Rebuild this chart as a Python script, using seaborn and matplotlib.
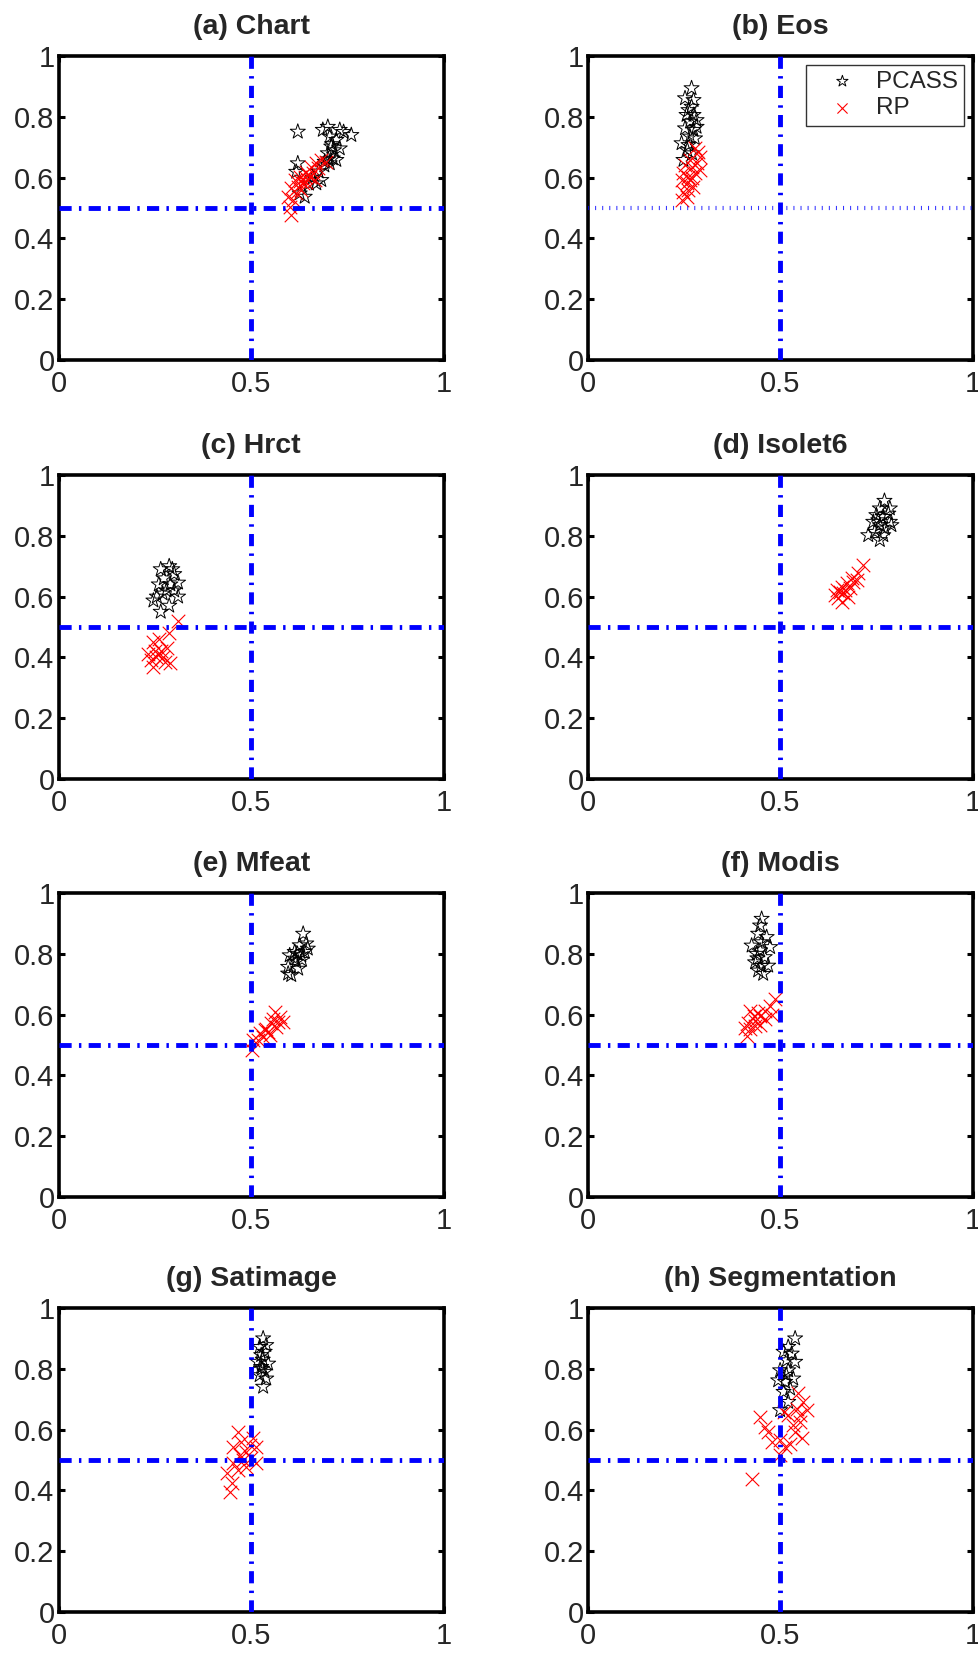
import matplotlib
matplotlib.use("Agg")
import matplotlib.pyplot as plt
import seaborn as sns
import pandas as pd

# ---------------- data ----------------
titles = ["(a) Chart", "(b) Eos", "(c) Hrct", "(d) Isolet6",
          "(e) Mfeat", "(f) Modis", "(g) Satimage", "(h) Segmentation"]
x_ticks = [0, 0.5, 1]
x_tick_labels = ["0", "0.5", "1"]
y_ticks = [0, 0.2, 0.4, 0.6, 0.8, 1]
y_tick_labels = ["0", "0.2", "0.4", "0.6", "0.8", "1"]
series_names = ["PCASS", "RP"]

chart_pcass_x = [0.621, 0.686, 0.699, 0.730, 0.760, 0.704, 0.721, 0.708, 0.730, 0.699, 0.712, 0.721,
                 0.704, 0.691, 0.621, 0.617, 0.682, 0.669, 0.639, 0.626, 0.660, 0.650, 0.700, 0.715,
                 0.710, 0.740, 0.690, 0.675]
chart_pcass_y = [0.751, 0.757, 0.767, 0.757, 0.740, 0.735, 0.724, 0.702, 0.696, 0.680, 0.663, 0.658,
                 0.647, 0.652, 0.647, 0.619, 0.592, 0.581, 0.537, 0.548, 0.600, 0.580, 0.660, 0.690,
                 0.710, 0.750, 0.640, 0.620]
chart_rp_x = [0.604, 0.600, 0.596, 0.604, 0.613, 0.626, 0.635, 0.643, 0.656, 0.669, 0.682, 0.695,
              0.652, 0.630, 0.617, 0.660, 0.621, 0.643, 0.673, 0.609, 0.639, 0.665, 0.628, 0.648]
chart_rp_y = [0.477, 0.504, 0.537, 0.565, 0.592, 0.603, 0.581, 0.619, 0.636, 0.647, 0.658, 0.652,
              0.603, 0.559, 0.548, 0.614, 0.570, 0.587, 0.630, 0.526, 0.603, 0.592, 0.590, 0.610]

eos_pcass_x = [0.269, 0.252, 0.274, 0.261, 0.282, 0.265, 0.252, 0.274, 0.265, 0.243, 0.261, 0.278,
               0.256, 0.274, 0.269, 0.248, 0.282, 0.258, 0.270]
eos_pcass_y = [0.894, 0.861, 0.855, 0.822, 0.789, 0.784, 0.762, 0.757, 0.735, 0.713, 0.707, 0.729,
               0.806, 0.806, 0.833, 0.658, 0.767, 0.690, 0.680]
eos_rp_x = [0.243, 0.248, 0.256, 0.261, 0.278, 0.291, 0.291, 0.278, 0.265, 0.252, 0.269, 0.243,
            0.274, 0.256, 0.265, 0.282, 0.248, 0.287, 0.260, 0.270]
eos_rp_y = [0.526, 0.554, 0.581, 0.603, 0.614, 0.625, 0.669, 0.696, 0.658, 0.641, 0.636, 0.592,
            0.570, 0.537, 0.592, 0.647, 0.614, 0.685, 0.560, 0.600]

hrct_pcass_x = [0.287, 0.265, 0.300, 0.260, 0.310, 0.280, 0.246, 0.265, 0.287, 0.310, 0.273, 0.290,
                0.270, 0.300, 0.255, 0.295]
hrct_pcass_y = [0.700, 0.690, 0.674, 0.640, 0.646, 0.620, 0.587, 0.550, 0.570, 0.600, 0.660, 0.640,
                0.610, 0.620, 0.600, 0.690]
hrct_rp_x = [0.246, 0.232, 0.254, 0.265, 0.276, 0.246, 0.287, 0.310, 0.280, 0.260, 0.250, 0.240,
             0.258, 0.270, 0.290]
hrct_rp_y = [0.450, 0.410, 0.400, 0.420, 0.385, 0.370, 0.480, 0.520, 0.430, 0.460, 0.420, 0.390,
             0.410, 0.400, 0.380]

isolet_pcass_x = [0.770, 0.758, 0.784, 0.749, 0.767, 0.784, 0.758, 0.741, 0.771, 0.788, 0.728, 0.758,
                  0.745, 0.767, 0.780, 0.754]
isolet_pcass_y = [0.915, 0.890, 0.890, 0.868, 0.862, 0.846, 0.835, 0.846, 0.824, 0.835, 0.802, 0.786,
                  0.813, 0.802, 0.873, 0.851]
isolet_rp_x = [0.715, 0.702, 0.685, 0.672, 0.659, 0.646, 0.650, 0.663, 0.680, 0.676, 0.659, 0.642,
               0.689, 0.667, 0.655, 0.698]
isolet_rp_y = [0.704, 0.677, 0.660, 0.644, 0.633, 0.622, 0.594, 0.611, 0.627, 0.600, 0.583, 0.605,
               0.649, 0.622, 0.616, 0.655]

mfeat_pcass_x = [0.635, 0.643, 0.626, 0.613, 0.630, 0.600, 0.639, 0.617, 0.596, 0.604, 0.622, 0.613,
                 0.647, 0.596, 0.620, 0.632]
mfeat_pcass_y = [0.866, 0.834, 0.828, 0.806, 0.795, 0.795, 0.806, 0.774, 0.757, 0.730, 0.751, 0.784,
                 0.817, 0.735, 0.800, 0.780]
mfeat_rp_x = [0.501, 0.505, 0.522, 0.539, 0.561, 0.574, 0.583, 0.552, 0.530, 0.543, 0.565, 0.517,
              0.556, 0.569, 0.535, 0.548]
mfeat_rp_y = [0.484, 0.516, 0.538, 0.554, 0.610, 0.593, 0.576, 0.571, 0.527, 0.543, 0.560, 0.516,
              0.587, 0.576, 0.549, 0.532]

modis_pcass_x = [0.451, 0.447, 0.442, 0.425, 0.473, 0.451, 0.438, 0.459, 0.434, 0.468, 0.455, 0.442,
                 0.447, 0.464, 0.450, 0.440]
modis_pcass_y = [0.915, 0.893, 0.866, 0.827, 0.822, 0.838, 0.800, 0.789, 0.772, 0.761, 0.734, 0.745,
                 0.811, 0.855, 0.760, 0.785]
modis_rp_x = [0.486, 0.473, 0.460, 0.447, 0.434, 0.421, 0.408, 0.412, 0.421, 0.434, 0.447, 0.460,
              0.430, 0.442, 0.416, 0.477]
modis_rp_y = [0.650, 0.628, 0.611, 0.595, 0.578, 0.611, 0.557, 0.529, 0.551, 0.562, 0.567, 0.584,
              0.595, 0.606, 0.573, 0.600]

satimage_pcass_x = [0.531, 0.522, 0.539, 0.526, 0.544, 0.517, 0.535, 0.522, 0.539, 0.531, 0.526, 0.535,
                    0.530, 0.528]
satimage_pcass_y = [0.900, 0.872, 0.878, 0.845, 0.817, 0.823, 0.790, 0.779, 0.768, 0.741, 0.806, 0.856,
                    0.830, 0.800]
satimage_rp_x = [0.466, 0.453, 0.474, 0.505, 0.513, 0.487, 0.470, 0.500, 0.513, 0.453, 0.436, 0.449,
                 0.445, 0.487, 0.466, 0.496, 0.479]
satimage_rp_y = [0.593, 0.544, 0.560, 0.571, 0.544, 0.527, 0.516, 0.505, 0.489, 0.489, 0.456, 0.423,
                 0.396, 0.478, 0.467, 0.549, 0.500]

segmentation_pcass_x = [0.538, 0.520, 0.508, 0.529, 0.516, 0.538, 0.499, 0.520, 0.494, 0.512, 0.533,
                        0.520, 0.499, 0.508, 0.525, 0.515]
segmentation_pcass_y = [0.900, 0.872, 0.856, 0.850, 0.828, 0.823, 0.795, 0.795, 0.762, 0.757, 0.768,
                        0.691, 0.664, 0.724, 0.735, 0.780]
segmentation_rp_x = [0.546, 0.559, 0.568, 0.551, 0.542, 0.520, 0.508, 0.447, 0.460, 0.468, 0.477,
                     0.499, 0.512, 0.525, 0.538, 0.555, 0.499, 0.425, 0.551, 0.533]
segmentation_rp_y = [0.719, 0.691, 0.663, 0.647, 0.669, 0.647, 0.658, 0.642, 0.609, 0.593, 0.560,
                     0.565, 0.543, 0.554, 0.593, 0.571, 0.516, 0.439, 0.626, 0.615]

panel_data = [
    (chart_pcass_x, chart_pcass_y, chart_rp_x, chart_rp_y),
    (eos_pcass_x, eos_pcass_y, eos_rp_x, eos_rp_y),
    (hrct_pcass_x, hrct_pcass_y, hrct_rp_x, hrct_rp_y),
    (isolet_pcass_x, isolet_pcass_y, isolet_rp_x, isolet_rp_y),
    (mfeat_pcass_x, mfeat_pcass_y, mfeat_rp_x, mfeat_rp_y),
    (modis_pcass_x, modis_pcass_y, modis_rp_x, modis_rp_y),
    (satimage_pcass_x, satimage_pcass_y, satimage_rp_x, satimage_rp_y),
    (segmentation_pcass_x, segmentation_pcass_y, segmentation_rp_x, segmentation_rp_y),
]
threshold = 0.5

# ---------------- style ----------------
sns.set_style("white")
plt.rcParams["font.family"] = ["Liberation Sans", "DejaVu Sans"]

W, H = 979, 1653
fig = plt.figure(figsize=(W / 100, H / 100), dpi=100)

col_left = [58.7, 588]
ax_w = 385
row_top = [56, 475, 893, 1308]
ax_h = 304

dash_dot = (0, (2.5, 1.5, 0.5, 1.5))
for i, (title, (px, py, rx, ry)) in enumerate(zip(titles, panel_data)):
    r, c = divmod(i, 2)
    ax = fig.add_axes([col_left[c] / W, 1 - (row_top[r] + ax_h) / H, ax_w / W, ax_h / H])
    df_p = pd.DataFrame({"x": px, "y": py})
    df_r = pd.DataFrame({"x": rx, "y": ry})
    sns.scatterplot(data=df_p, x="x", y="y", ax=ax, marker="*", s=130, color="black",
                    facecolor="none", edgecolor="black", linewidth=0.7,
                    label=series_names[0], zorder=3)
    sns.scatterplot(data=df_r, x="x", y="y", ax=ax, marker="x", s=95, color="red",
                    linewidth=0.8, label=series_names[1], zorder=3)
    ax.axvline(threshold, color="blue", lw=3.5, linestyle=dash_dot, zorder=4)
    if i == 1:
        ax.axhline(threshold, color="blue", lw=3.0, linestyle=(0, (0.25, 1.45)),
                   alpha=0.8, zorder=4)
    else:
        ax.axhline(threshold, color="blue", lw=3.5, linestyle=dash_dot, zorder=4)

    ax.set_xlim(0, 1)
    ax.set_ylim(0, 1)
    ax.set_xticks(x_ticks)
    ax.set_xticklabels(x_tick_labels)
    ax.set_yticks(y_ticks)
    ax.set_yticklabels(y_tick_labels)
    ax.set_xlabel("")
    ax.set_ylabel("")
    ax.tick_params(direction="in", length=4, width=2.2, color="black", labelsize=21,
                   top=True, right=True, bottom=True, left=True)
    ax.tick_params(axis="x", pad=7)
    ax.tick_params(axis="y", pad=3)
    for sp in ax.spines.values():
        sp.set_visible(True)
        sp.set_linewidth(2.6)
        sp.set_color("black")
    ax.set_title(title, fontsize=20.5, fontweight="bold", pad=16)
    if i == 1:
        leg = ax.legend(loc="upper right", fontsize=17.5, frameon=True, fancybox=False,
                        borderaxespad=0.35, handletextpad=0.15, markerscale=0.75,
                        borderpad=0.25, labelspacing=0.2, handlelength=2.5)
        leg.get_frame().set_edgecolor("black")
        leg.get_frame().set_linewidth(1.0)
    else:
        lg = ax.get_legend()
        if lg is not None:
            lg.remove()

fig.savefig("out.png", dpi=100)
